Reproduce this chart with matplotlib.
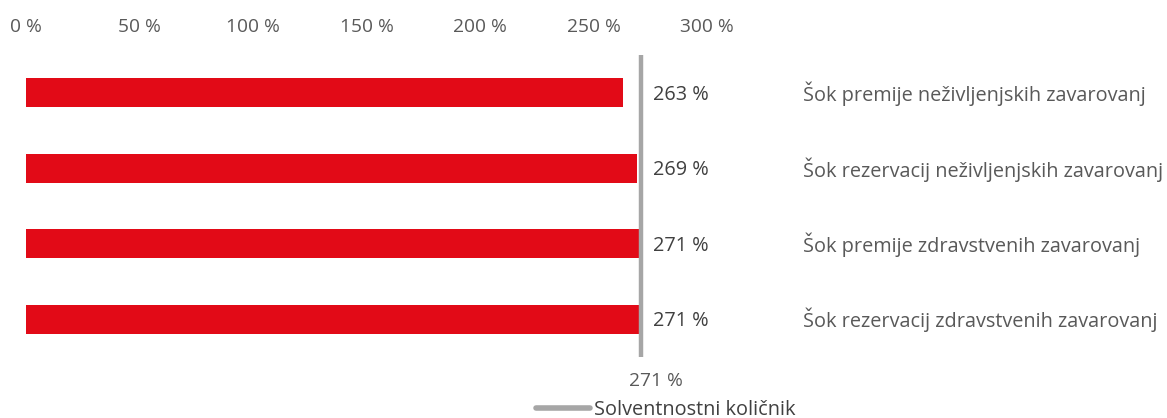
import matplotlib
matplotlib.use("Agg")
import matplotlib.pyplot as plt
from matplotlib.lines import Line2D

plt.rcParams['font.family'] = ['Open Sans', 'DejaVu Sans']

# --- data ---
categories = [
    'Šok premije neživljenjskih zavarovanj',
    'Šok rezervacij neživljenjskih zavarovanj',
    'Šok premije zdravstvenih zavarovanj',
    'Šok rezervacij zdravstvenih zavarovanj',
]
shock_values = [263, 269, 271, 271]
solvency_ratio = 271
x_ticks = [0, 50, 100, 150, 200, 250, 300]

BAR_COLOR = '#e20a17'
LINE_COLOR = '#a6a6a6'
TEXT_GRAY = '#595959'
TEXT_DARK = '#404040'

W, H = 1167, 418
fig = plt.figure(figsize=(W / 100, H / 100), dpi=100)
ax = fig.add_axes([26 / W, 61 / H, 681 / W, 302 / H])

ypos = list(range(len(categories)))
ax.barh(ypos, shock_values, height=0.39, color=BAR_COLOR, zorder=2)
ax.axvline(solvency_ratio, color=LINE_COLOR, lw=3.2, solid_capstyle='butt', zorder=3)

ax.set_xlim(0, 300)
ax.set_ylim(len(categories) - 0.5, -0.5)

ax.xaxis.tick_top()
ax.set_xticks(x_ticks)
ax.set_xticklabels([f'{t} %' for t in x_ticks])
ax.tick_params(axis='x', length=0, pad=14, labelsize=13.8, labelcolor=TEXT_GRAY)
ax.set_yticks([])
for s in ax.spines.values():
    s.set_visible(False)

# value labels right of the solvency line, category names further right
for i, v in enumerate(shock_values):
    ax.annotate(f'{v} %', xy=(solvency_ratio, i), xytext=(12, -2), textcoords='offset pixels',
                ha='left', va='center', fontsize=14.3, color=TEXT_DARK)
    ax.annotate(categories[i], xy=(1, i), xycoords=('axes fraction', 'data'),
                xytext=(96, -1), textcoords='offset pixels',
                ha='left', va='center', fontsize=14.3, color=TEXT_GRAY)

# solvency ratio label under the line
ax.annotate(f'{solvency_ratio} %', xy=(solvency_ratio, 0), xycoords=('data', 'axes fraction'),
            xytext=(15, -24), textcoords='offset pixels', ha='center', va='center',
            fontsize=13.8, color=TEXT_GRAY)

handle = Line2D([], [], color=LINE_COLOR, lw=4, solid_capstyle='round')
fig.legend([handle], ['Solventnostni količnik'], loc='center', bbox_to_anchor=(666 / W, 8 / H),
           frameon=False, fontsize=14.3, handlelength=2.7, handletextpad=0.2, labelcolor=TEXT_DARK)

fig.savefig('out.png', dpi=100)
